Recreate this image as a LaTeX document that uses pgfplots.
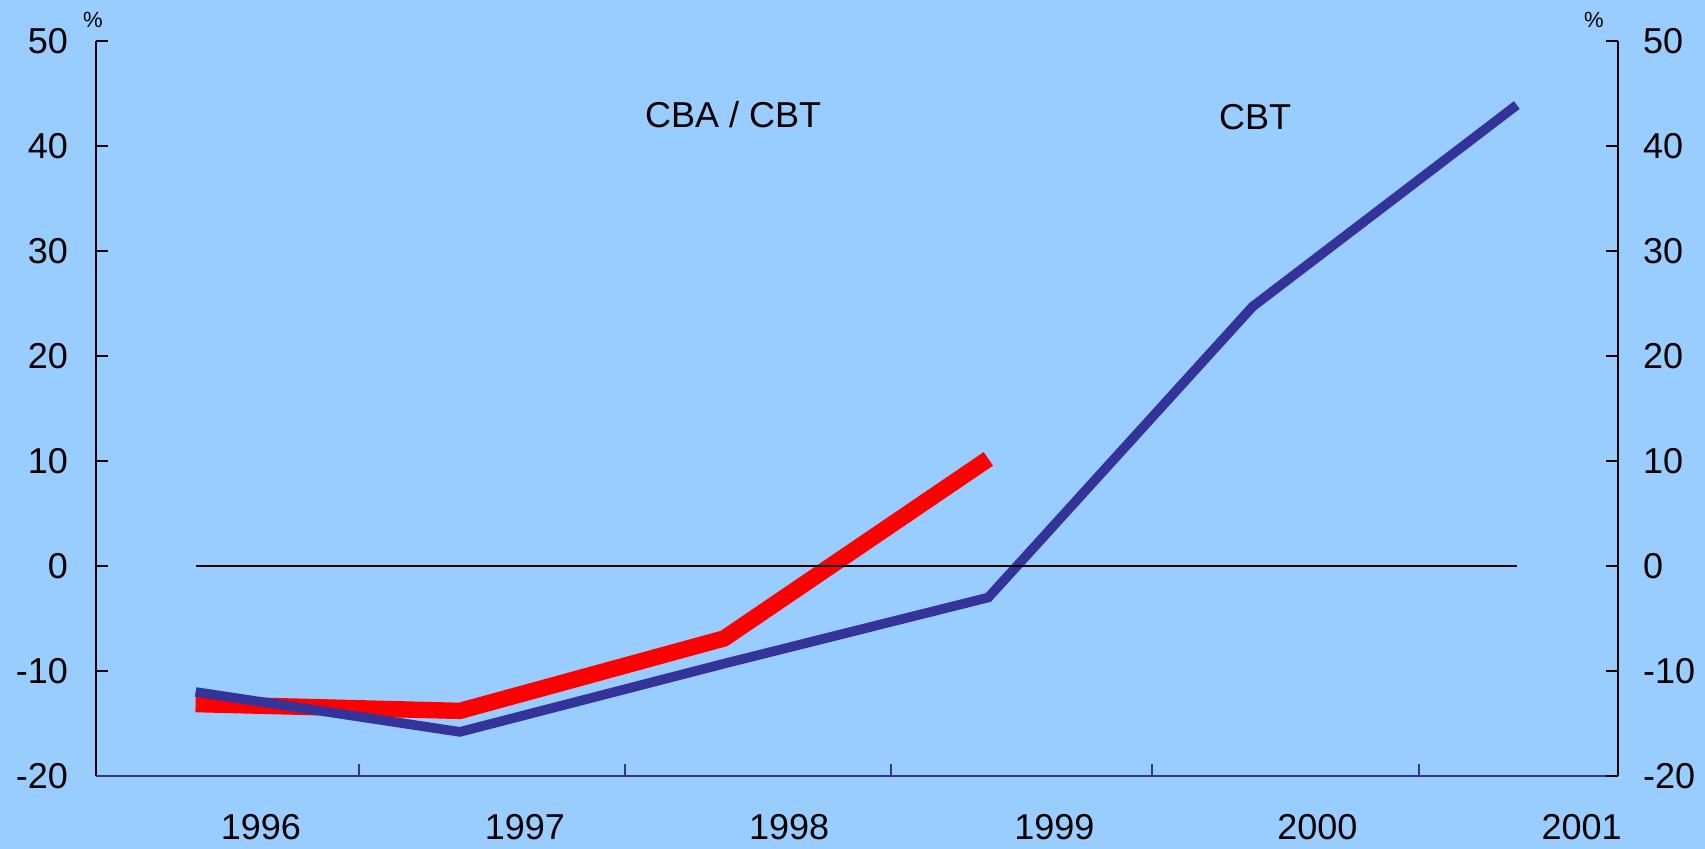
\documentclass[border=0pt]{standalone}
\usepackage{pgfplots}
\pgfplotsset{compat=1.18}
\usepackage{fontspec}
\setmainfont{Liberation Sans}
\usetikzlibrary{backgrounds}

\definecolor{bgblue}{HTML}{99CCFF}
\definecolor{cbtblue}{HTML}{333399}
\definecolor{cbared}{HTML}{FF0000}

\pgfplotsset{
  base/.style={
    at={(0,0)}, anchor=south west, scale only axis,
    width=761pt, height=367.5pt,
    xmin=-0.377, xmax=5.383, ymin=-20, ymax=50,
    ytick={-20,-10,...,50},
    tick align=inside,
    major tick length=5.8pt,
    ticklabel style={font=\fontsize{18}{21}\selectfont},
    /pgf/number format/assume math mode=true,
  }
}

\begin{document}
\begin{tikzpicture}
  \begin{axis}[base,
      clip mode=individual,
      axis x line*=bottom, axis y line*=left,
      x axis line style={-, cbtblue, line width=1.3pt},
      y axis line style={-, black, line width=0.6pt},
      xtick={-0.377,0.617,1.626,2.63,3.621,4.63},
      xticklabels={},
      x tick style={cbtblue, line width=1pt},
      y tick style={black, line width=0.6pt},
      extra x ticks={0.247,1.246,2.246,3.25,4.245,5.245},
      extra x tick labels={1996,1997,1998,1999,2000,2001},
      extra x tick style={major tick length=0pt, tick label style={yshift=-15.5pt}},
      yticklabel style={xshift=-10.5pt},
    ]
    % CBA / CBT
    \addplot[cbared, line width=8.2pt, no markers] coordinates {
      (0,-13.15) (1,-13.8) (2,-6.9) (3,10.2)
    };
    % CBT
    \addplot[cbtblue, line width=4.8pt, no markers] coordinates {
      (0,-12.0) (1,-15.8) (2,-9.3) (3,-3.0) (4,24.7) (5,43.9)
    };
    \addplot[black, line width=1pt, no markers] coordinates {(0,0) (5,0)};

    \node[font=\fontsize{18}{21}\selectfont, anchor=base] at (axis cs:2.034,41.8) {CBA / CBT};
    \node[font=\fontsize{18}{21}\selectfont, anchor=base] at (axis cs:4.01,41.6) {CBT};
    \node[font=\fontsize{11}{13}\selectfont, anchor=base, xshift=-1.5pt, yshift=6.5pt] at (rel axis cs:0,1) {\%};
    \node[font=\fontsize{11}{13}\selectfont, anchor=base, xshift=-12pt, yshift=6.5pt] at (rel axis cs:1,1) {\%};
  \end{axis}

  \begin{axis}[base,
      axis x line=none, axis y line*=right,
      y axis line style={-, black, line width=0.6pt},
      y tick style={black, line width=0.6pt},
      yticklabel style={xshift=9pt},
    ]
  \end{axis}

  \begin{scope}[on background layer]
    \fill[bgblue] (-48pt,-36.5pt) rectangle (804.5pt,388pt);
  \end{scope}
  \path[use as bounding box] (-48pt,-36.5pt) rectangle (804.5pt,388pt);
\end{tikzpicture}
\end{document}
